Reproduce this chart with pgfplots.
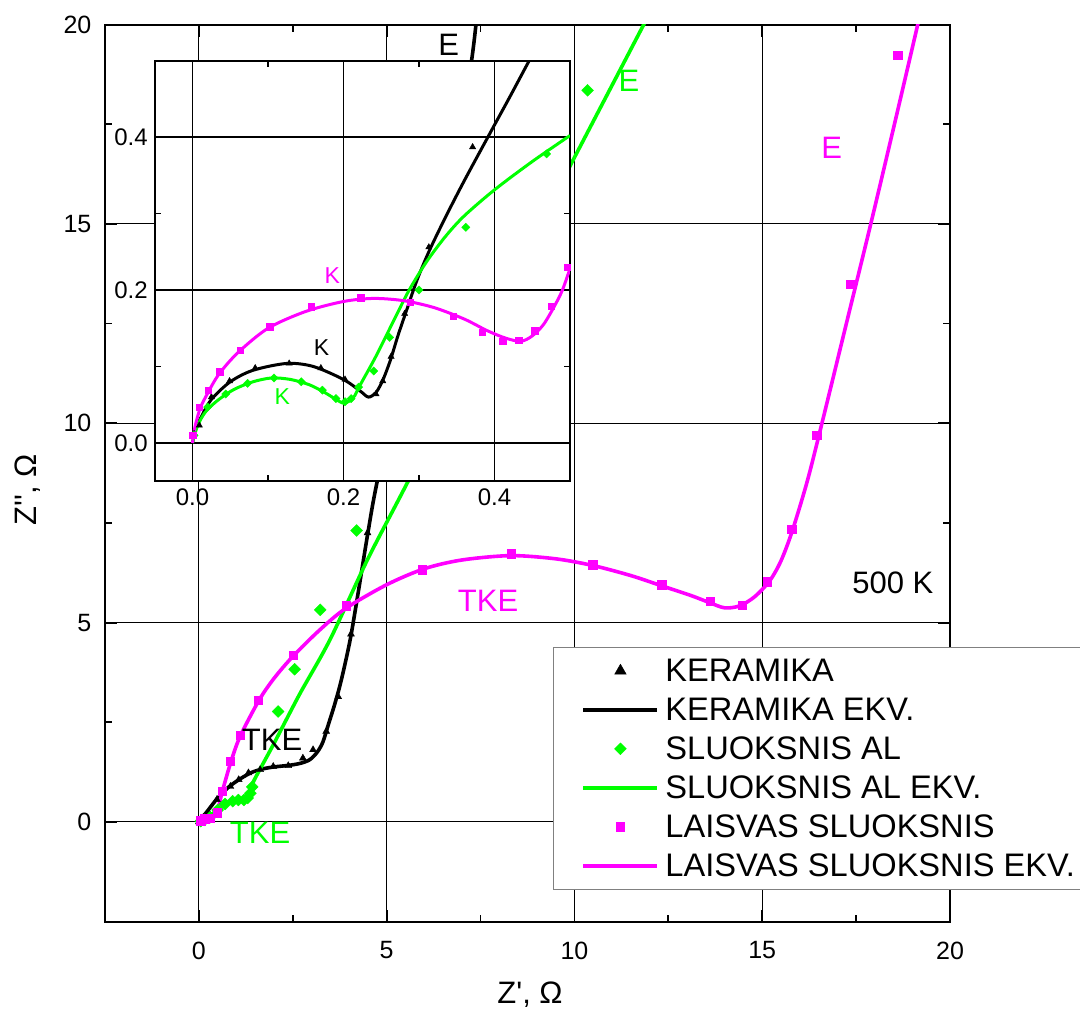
\documentclass[border=0pt]{standalone}
\usepackage{fontspec}
\setmainfont{Liberation Sans}
\newfontfamily\lsans{Liberation Sans}
\usepackage{pgfplots}
\pgfplotsset{compat=1.18}
\definecolor{mgreen}{RGB}{0,255,0}
\definecolor{mmag}{RGB}{255,0,255}
\newcommand{\bigf}{\fontsize{15.5}{18}\selectfont}
\newcommand{\legf}{\fontsize{16.3}{18}\selectfont}
\newcommand{\midf}{\fontsize{11.5}{14}\selectfont}
\begin{document}
\begin{tikzpicture}
\useasboundingbox (-52.5pt,-47.7pt) rectangle (487.5pt,460.8pt);
\begin{axis}[
 at={(0pt,0pt)}, anchor=south west,
 scale only axis, width=422.5pt, height=448.5pt,
 xmin=-2.5,xmax=20,ymin=-2.5,ymax=20,
 xtick={0,5,10,15,20}, ytick={0,5,10,15,20},
 minor xtick={2.5,7.5,12.5,17.5}, minor ytick={2.5,7.5,12.5,17.5},
 tick align=inside, major tick length=6pt, minor tick length=3.5pt,
 every tick/.style={black, line width=0.9pt},
 axis line style={line width=1pt},
 grid=major, major grid style={black, line width=0.5pt},
 /pgf/number format/assume math mode=true,
 tick label style={font=\fontsize{12.5}{15}\selectfont},
 xticklabel style={yshift=-6.5pt},
 yticklabel style={xshift=-3.3pt},
 xlabel={\lsans Z', Ω}, ylabel={\lsans Z'', Ω},
 label style={font=\bigf},
 xlabel style={at={(axis description cs:0.503,-0.0818)}, anchor=center},
 ylabel style={at={(axis description cs:-0.0911,0.481)}, anchor=center},
 legend style={at={(rel axis cs:0.53,0.3065)}, anchor=north west, draw=gray, line width=0.6pt,
   font=\legf, inner xsep=3pt, inner ysep=4pt, row sep=4pt, column sep=1.5pt,
   nodes={inner sep=1.5pt, text height=11.5pt, text depth=1pt}},
 legend cell align=left,
 legend image code/.code={\path (0pt,0pt); \draw[mark repeat=2,mark phase=2,#1] plot coordinates {(11pt,0pt)(29.5pt,0pt)(48pt,0pt)};},
]
% KERAMIKA
\addplot[only marks, mark=triangle*, mark size=2pt, color=black, mark options={solid,line width=0.2pt},
  legend image post style={mark size=3.3pt}] coordinates {
 (0,0)(0.05,0.05)(0.12,0.12)(0.26,0.23)(0.48,0.56)(0.84,0.89)(1.06,1.06)(1.32,1.23)(1.63,1.31)
 (1.98,1.39)(2.38,1.41)(2.77,1.6)(3.04,1.81)(3.39,2.27)(3.71,3.14)(4.05,4.71)(4.49,7.25)};
\addlegendentry{KERAMIKA}
\addplot[smooth, line width=1.8pt, color=black, legend image post style={line width=2pt}] coordinates {
 (0,0)(0.1,0.12)(0.25,0.3)(0.5,0.6)(0.8,0.88)(1.1,1.08)(1.4,1.24)(1.7,1.33)(2.0,1.38)(2.4,1.42)
 (2.7,1.47)(2.95,1.56)(3.15,1.75)(3.3,2.0)(3.45,2.45)(3.6,2.9)(3.75,3.4)(3.9,4.0)(4.05,4.68)
 (4.25,5.8)(4.5,7.25)(4.75,8.55)(5.5,11.8)(6.3,15.2)(7.0,17.9)(7.26,19.1)(7.4,20.2)};
\addlegendentry{KERAMIKA EKV.}
% SLUOKSNIS AL
\addplot[only marks, mark=square*, mark size=2.1pt, color=mgreen, mark options={solid,rotate=45,line width=0.2pt}] coordinates {
 (0.05,0.02)(0.15,0.05)(0.3,0.12)(0.5,0.3)(0.7,0.45)(0.9,0.52)(1.05,0.55)(1.2,0.55)(1.3,0.6)
 (1.37,0.72)(1.42,0.88)(2.11,2.77)(2.55,3.83)(3.23,5.32)(4.2,7.31)(10.35,18.35)};
\addlegendentry{SLUOKSNIS AL}
\addplot[smooth, line width=1.8pt, color=mgreen, legend image post style={line width=2pt}] coordinates {
 (0,0)(0.26,0.14)(0.5,0.3)(0.75,0.47)(0.95,0.53)(1.19,0.56)(1.3,0.63)(1.38,0.85)(1.5,1.1)
 (2.0,1.97)(2.68,3.2)(3.49,4.57)(4.5,6.6)(5.59,8.58)(7.7,12.5)(9.88,16.45)(11.9,20.1)};
\addlegendentry{SLUOKSNIS AL EKV.}
% LAISVAS SLUOKSNIS
\addplot[only marks, mark=square*, mark size=2.1pt, color=mmag, mark options={solid,line width=0.2pt}] coordinates {
 (0.05,0.03)(0.15,0.08)(0.3,0.1)(0.48,0.23)(0.62,0.77)(0.84,1.52)(1.1,2.18)(1.58,3.06)(2.51,4.18)
 (3.92,5.42)(5.94,6.33)(8.32,6.73)(10.49,6.45)(12.32,5.95)(13.62,5.53)(14.46,5.44)(15.13,6.03)
 (15.78,7.34)(16.45,9.70)(17.35,13.49)(18.61,19.23)};
\addlegendentry{LAISVAS SLUOKSNIS}
\addplot[smooth, line width=1.8pt, color=mmag, legend image post style={line width=2pt}] coordinates {
 (0,0)(0.15,0.04)(0.35,0.1)(0.5,0.3)(0.62,0.75)(0.85,1.5)(1.1,2.15)(1.6,3.05)(2.0,3.6)(2.5,4.15)
 (3.2,4.8)(3.9,5.35)(5.0,5.95)(6.0,6.35)(7.0,6.57)(8.3,6.68)(9.5,6.6)(10.5,6.43)(11.5,6.18)
 (12.3,5.93)(13.1,5.68)(13.6,5.5)(14.0,5.37)(14.4,5.42)(14.8,5.65)(15.2,6.05)(15.5,6.55)
 (15.8,7.3)(16.2,8.55)(16.59,10)(17.24,12.5)(17.89,15)(18.52,17.5)(19.14,20)(19.2,20.3)};
\addlegendentry{LAISVAS SLUOKSNIS EKV.}
\node[font=\bigf, text=black] at (axis cs:6.65,19.5) {E};
\node[font=\bigf, text=mgreen] at (axis cs:11.45,18.6) {E};
\node[font=\bigf, text=mmag] at (axis cs:16.85,16.9) {E};
\node[font=\bigf, text=mmag] at (axis cs:7.7,5.55) {TKE};
\node[font=\bigf, text=black] at (axis cs:1.95,2.07) {TKE};
\node[font=\bigf, text=mgreen] at (axis cs:1.63,-0.27) {TKE};
\node[font=\bigf, text=black] at (axis cs:18.48,6.0) {500 K};
\end{axis}
\begin{axis}[
 at={(24.9pt,220.2pt)}, anchor=south west,
 scale only axis, width=207.6pt, height=210.3pt,
 xmin=-0.05,xmax=0.5,ymin=-0.05,ymax=0.5,
 xtick={0,0.2,0.4}, ytick={0,0.2,0.4},
 xticklabels={0.0,0.2,0.4}, yticklabels={0.0,0.2,0.4},
 minor xtick={0.1,0.3}, minor ytick={0.1,0.3},
 tick align=inside, major tick length=5pt, minor tick length=3pt,
 every tick/.style={black, line width=0.8pt},
 axis line style={line width=1pt},
 grid=major, major grid style={black, line width=0.6pt},
 axis background/.style={fill=white},
 tick label style={font=\fontsize{12}{14}\selectfont},
]
\addplot[only marks, mark=triangle*, mark size=1.8pt, color=black, mark options={solid,line width=0.2pt}] coordinates {
 (0.002,0.012)(0.009,0.023)(0.025,0.060)(0.049,0.081)(0.083,0.098)(0.128,0.104)(0.170,0.098)
 (0.202,0.083)(0.243,0.064)(0.252,0.081)(0.263,0.113)(0.281,0.169)(0.313,0.256)(0.371,0.387)};
\addplot[smooth, line width=1.5pt, color=black] coordinates {
 (0,0)(0.005,0.02)(0.012,0.035)(0.025,0.057)(0.05,0.08)(0.08,0.095)(0.125,0.104)(0.16,0.1)
 (0.2,0.083)(0.222,0.068)(0.233,0.060)(0.243,0.066)(0.252,0.082)(0.262,0.108)(0.272,0.140)
 (0.283,0.172)(0.297,0.212)(0.313,0.250)(0.335,0.295)(0.36,0.343)(0.394,0.405)(0.42,0.452)
 (0.446,0.5)(0.46,0.525)};
\addplot[only marks, mark=square*, mark size=1.45pt, color=mgreen, mark options={solid,rotate=45,line width=0.2pt}] coordinates {
 (0.002,0.01)(0.020,0.047)(0.044,0.064)(0.073,0.078)(0.108,0.085)(0.144,0.080)(0.172,0.069)
 (0.190,0.058)(0.202,0.054)(0.21,0.058)(0.22,0.073)(0.240,0.094)(0.261,0.138)(0.300,0.200)
 (0.362,0.282)(0.469,0.378)};
\addplot[smooth, line width=1.5pt, color=mgreen] coordinates {
 (0,0)(0.005,0.018)(0.012,0.033)(0.02,0.044)(0.035,0.057)(0.055,0.07)(0.08,0.08)(0.105,0.085)
 (0.13,0.083)(0.155,0.076)(0.175,0.066)(0.19,0.057)(0.2,0.052)(0.208,0.055)(0.215,0.062)
 (0.2207,0.0734)(0.2426,0.1127)(0.269,0.165)(0.287,0.2)(0.31,0.237)(0.335,0.27)(0.36,0.297)
 (0.4,0.331)(0.45,0.368)(0.5,0.402)};
\addplot[only marks, mark=square*, mark size=1.6pt, color=mmag, mark options={solid,line width=0.2pt}] coordinates {
 (0.0,0.010)(0.009,0.047)(0.021,0.069)(0.036,0.093)(0.063,0.121)(0.102,0.152)(0.157,0.178)
 (0.223,0.190)(0.288,0.184)(0.345,0.166)(0.384,0.145)(0.411,0.133)(0.432,0.134)(0.453,0.147)
 (0.475,0.179)(0.496,0.230)};
\addplot[smooth, line width=1.5pt, color=mmag] coordinates {
 (0,0)(0.003,0.02)(0.01,0.045)(0.02,0.065)(0.035,0.09)(0.06,0.118)(0.1,0.15)(0.15,0.172)
 (0.2,0.185)(0.24,0.189)(0.28,0.186)(0.32,0.177)(0.36,0.162)(0.39,0.147)(0.415,0.137)
 (0.435,0.133)(0.45,0.14)(0.465,0.155)(0.48,0.18)(0.49,0.2)(0.5,0.228)};
\node[font=\midf, text=mmag] at (axis cs:0.185,0.219) {K};
\node[font=\midf, text=black] at (axis cs:0.171,0.125) {K};
\node[font=\midf, text=mgreen] at (axis cs:0.119,0.060) {K};
\end{axis}
\end{tikzpicture}
\end{document}
